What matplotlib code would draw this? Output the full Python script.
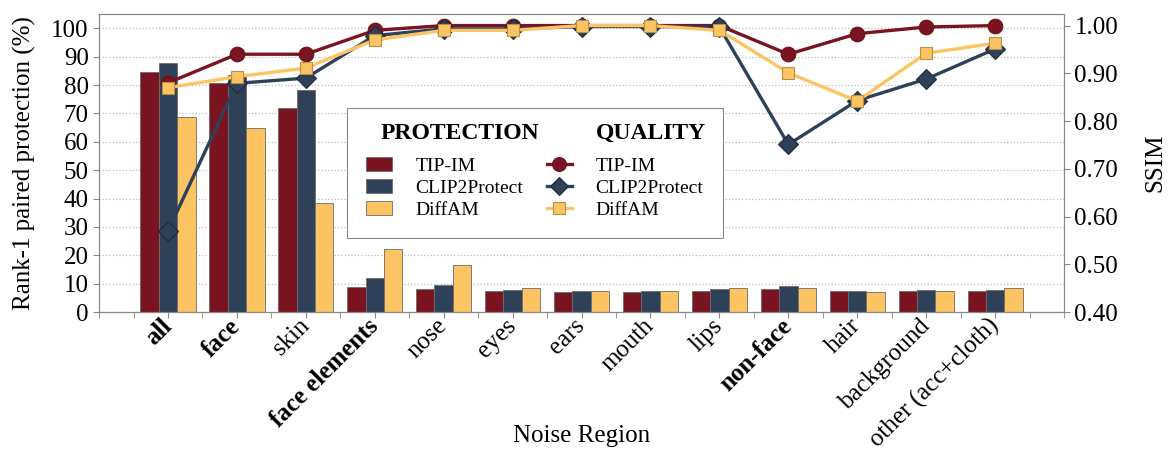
import matplotlib
matplotlib.use("Agg")
import matplotlib.pyplot as plt
import numpy as np
from matplotlib.patches import Rectangle
from matplotlib.lines import Line2D

plt.rcParams['font.family'] = 'serif'
plt.rcParams['font.serif'] = ['Liberation Serif', 'DejaVu Serif']

CATEGORIES = ['all', 'face', 'skin', 'face elements', 'nose', 'eyes', 'ears', 'mouth',
              'lips', 'non-face', 'hair', 'background', 'other (acc+cloth)']
BOLD = ['all', 'face', 'face elements', 'non-face']
METHODS = ['TIP-IM', 'CLIP2Protect', 'DiffAM']

TIP_PROT = [84.5, 80.6, 71.8, 9.0, 8.1, 7.3, 7.0, 7.2, 7.6, 8.3, 7.6, 7.5, 7.3]
CLIP_PROT = [87.7, 83.6, 78.3, 12.0, 9.7, 7.7, 7.3, 7.5, 8.3, 9.3, 7.4, 7.9, 7.9]
DIFF_PROT = [68.8, 64.7, 38.4, 22.4, 16.7, 8.6, 7.3, 7.6, 8.6, 8.6, 7.2, 7.3, 8.6]

TIP_SSIM = [0.88, 0.94, 0.94, 0.99, 1.0, 1.0, 1.0, 1.0, 1.0, 0.94, 0.983, 0.997, 1.0]
CLIP_SSIM = [0.57, 0.879, 0.89, 0.979, 0.993, 0.993, 0.998, 0.998, 0.997, 0.751, 0.843, 0.888, 0.951]
DIFF_SSIM = [0.87, 0.893, 0.911, 0.97, 0.99, 0.99, 1.0, 1.0, 0.99, 0.901, 0.842, 0.942, 0.963]

COLORS = ['#7A1420', '#2E4159', '#FCC462']
MEDGE = ['#6A0F1A', '#1E2B3C', '#B8904A']

fig, ax = plt.subplots(figsize=(11.68, 4.55), dpi=100)
fig.subplots_adjust(left=0.0848, right=0.911, top=0.969, bottom=0.314)

x = np.arange(len(CATEGORIES))
w = 0.267
prot = [TIP_PROT, CLIP_PROT, DIFF_PROT]
for i, vals in enumerate(prot):
    ax.bar(x + (i - 1) * w, vals, w, color=COLORS[i], edgecolor='#6b6b6b', linewidth=0.6,
           zorder=2)

ax.set_xlim(-1, 13)
ax.set_ylim(0, 105)
ax.set_yticks(np.arange(0, 101, 10))
ax.set_xticks(x)
ax.set_xticks(np.arange(-1, 13.01, 0.5), minor=True)
ax.set_xticklabels(CATEGORIES, rotation=45, ha='right', va='center', rotation_mode='anchor')
for lab in ax.get_xticklabels():
    if lab.get_text() in BOLD:
        lab.set_fontweight('bold')
ax.tick_params(axis='both', labelsize=18, length=4, color='#888888')
ax.tick_params(axis='x', which='minor', length=4, color='#888888')
ax.grid(axis='y', linestyle=':', color='#bbbbbb', linewidth=0.9)
ax.set_axisbelow(True)
ax.set_ylabel('Rank-1 paired protection (%)', fontsize=18, labelpad=11)
ax.set_xlabel('Noise Region', fontsize=18)
ax.xaxis.set_label_coords(0.5, -0.38)
for s in ax.spines.values():
    s.set_color('#888888')

ax2 = ax.twinx()
ssim = [TIP_SSIM, CLIP_SSIM, DIFF_SSIM]
markers = ['o', 'D', 's']
msizes = [10.5, 10, 9]
for i, vals in enumerate(ssim):
    ax2.plot(x, vals, color=COLORS[i], linewidth=2.4, marker=markers[i], markersize=msizes[i],
             markerfacecolor=COLORS[i], markeredgecolor=MEDGE[i], markeredgewidth=0.8, zorder=3)
ax2.set_ylim(0.4, 1.024)
ax2.set_yticks(np.arange(0.4, 1.001, 0.1))
ax2.set_yticklabels([f'{v:.2f}' for v in np.arange(0.4, 1.001, 0.1)])
ax2.tick_params(axis='y', labelsize=18, length=4, color='#888888')
ax2.set_ylabel('SSIM', fontsize=18, labelpad=19)
for s in ax2.spines.values():
    s.set_color('#888888')

# legend: two columns, headers drawn separately so they don't widen the columns
blank = Rectangle((0, 0), 1, 1, visible=False)
handles = [blank] + [Rectangle((0, 0), 1, 1, facecolor=COLORS[i], edgecolor='#6b6b6b',
                               linewidth=0.6) for i in range(3)]
handles += [blank] + [Line2D([], [], color=COLORS[i], linewidth=2.4, marker=markers[i],
                             markersize=msizes[i] * 0.95, markeredgecolor=MEDGE[i],
                             markeredgewidth=0.8) for i in range(3)]
labels = [' '] + METHODS + [' '] + METHODS
leg = ax2.legend(handles, labels, ncol=2, loc='upper left', bbox_to_anchor=(0.257, 0.685),
                 borderaxespad=0, fontsize=14, frameon=True, fancybox=False, framealpha=1,
                 edgecolor='#888888', handlelength=1.3, handletextpad=1.23,
                 columnspacing=1.18, labelspacing=0.23, borderpad=1.0)
leg.get_frame().set_linewidth(0.8)
texts = leg.get_texts()
texts[0].set_fontsize(20)
texts[4].set_fontsize(20)
ax2.text(0.292, 0.601, 'PROTECTION', transform=ax2.transAxes, fontsize=17,
         fontweight='bold', va='center', ha='left', zorder=10)
ax2.text(0.515, 0.601, 'QUALITY', transform=ax2.transAxes, fontsize=17,
         fontweight='bold', va='center', ha='left', zorder=10)

fig.savefig('out.png', dpi=100)
